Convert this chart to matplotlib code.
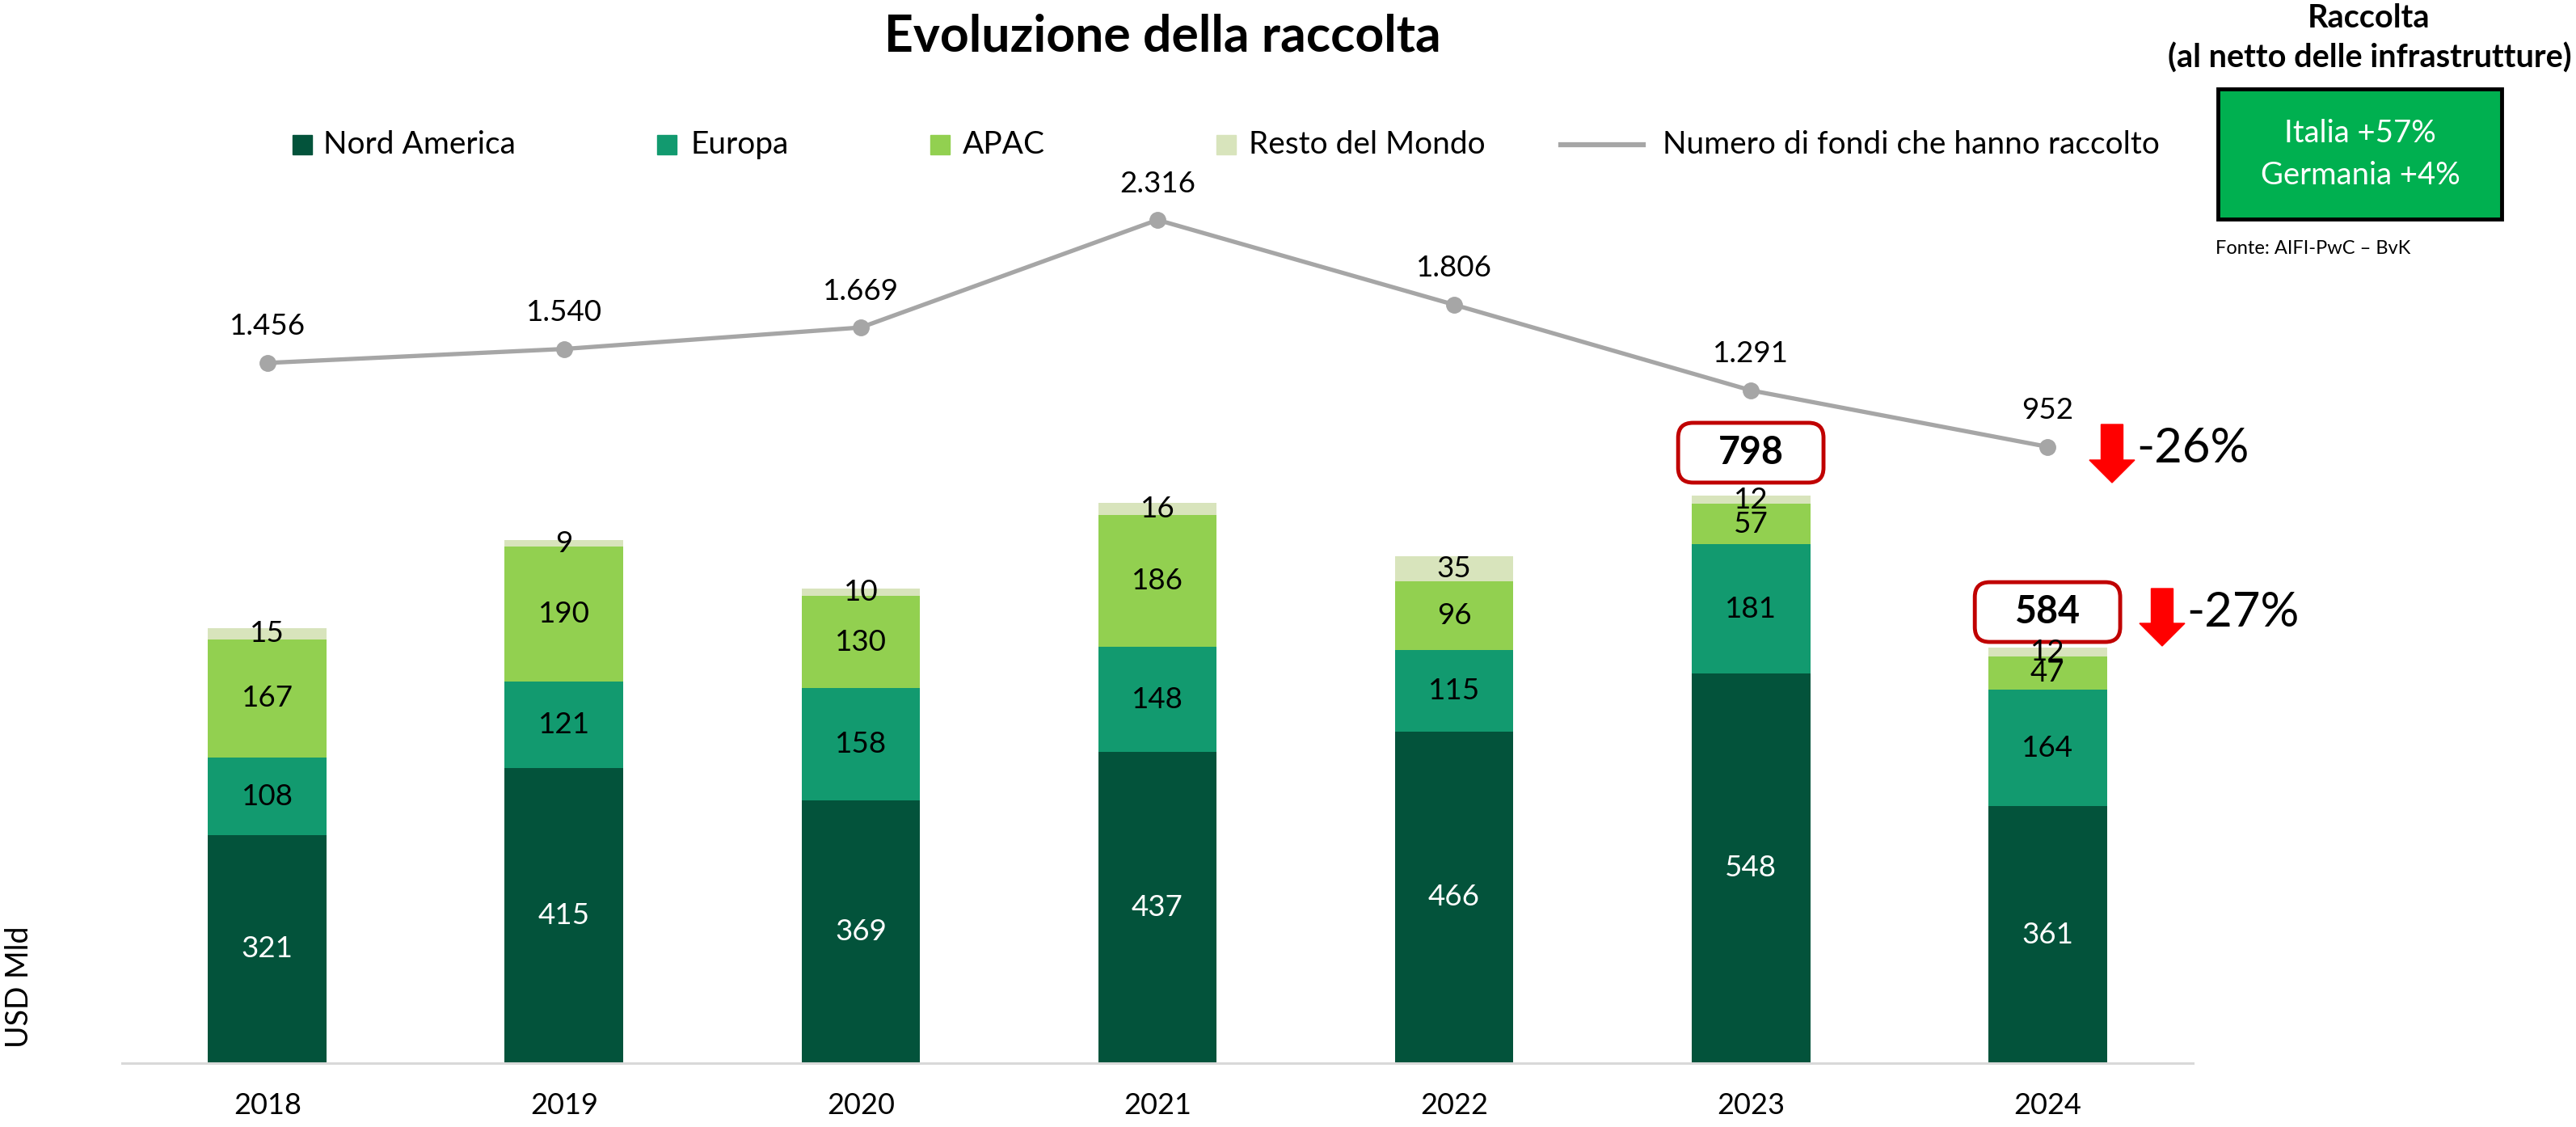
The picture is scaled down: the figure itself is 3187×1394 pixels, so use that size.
import matplotlib
matplotlib.use("Agg")
import matplotlib.pyplot as plt
from matplotlib.patches import Rectangle, FancyBboxPatch, FancyArrow
from matplotlib.lines import Line2D

plt.rcParams['font.family'] = ['Lato', 'DejaVu Sans']

# data
years = ['2018', '2019', '2020', '2021', '2022', '2023', '2024']
nord_america = [321, 415, 369, 437, 466, 548, 361]
europa = [108, 121, 158, 148, 115, 181, 164]
apac = [167, 190, 130, 186, 96, 57, 47]
resto = [15, 9, 10, 16, 35, 12, 12]
n_fondi = [1456, 1540, 1669, 2316, 1806, 1291, 952]

series = [
    ('Nord America', nord_america, '#03533B', 'white'),
    ('Europa', europa, '#129A6F', 'black'),
    ('APAC', apac, '#92D050', 'black'),
    ('Resto del Mondo', resto, '#D8E4BC', 'black'),
]
line_color = '#A6A6A6'

W, H = 3187, 1394
fig = plt.figure(figsize=(W / 100, H / 100), dpi=100)


def fx(px):
    return px / W


def fy(py):
    return 1 - py / H


ax = fig.add_axes([fx(151), fy(1315), fx(2713) - fx(151), fy(100) - fy(1315)])
x = list(range(len(years)))

# stacked bars
bottom = [0] * len(years)
for name, vals, col, tcol in series:
    ax.bar(x, vals, width=0.4, bottom=bottom, color=col, edgecolor='none')
    for i, v in enumerate(vals):
        ax.text(i, bottom[i] + v / 2, str(v), ha='center', va='center',
                fontsize=26.5, color=tcol)
    bottom = [b + v for b, v in zip(bottom, vals)]
totals = bottom

ax.set_ylim(0, (1315 - 100) / 0.88)
ax.set_xlim(-0.49, 6.49)
ax.set_xticks(x)
ax.set_xticklabels(years, fontsize=26)
ax.tick_params(axis='x', length=0, pad=26)
ax.set_yticks([])
for s in ['top', 'right', 'left']:
    ax.spines[s].set_visible(False)
ax.spines['bottom'].set_color('#D9D9D9')
ax.spines['bottom'].set_linewidth(2.2)
fig.text(fx(24), fy(1221), 'USD Mld', rotation=90, ha='center', va='center',
         fontsize=27)

# line on secondary axis
ax2 = ax.twinx()
ax2.set_ylim(2316 - (1315 - 272) / 0.2057, 2316 + (272 - 100) / 0.2057)
ax2.plot(x, n_fondi, color=line_color, lw=3.8, marker='o', markersize=14,
         solid_capstyle='round')
for i, v in enumerate(n_fondi):
    ax2.annotate(f"{v:,}".replace(',', '.'), (i, v), xytext=(0, 45),
                 textcoords='offset pixels', ha='center', va='center', fontsize=26.5)
ax2.axis('off')

# total boxes for 2023 and 2024
for i, off in [(5, 60), (6, 50)]:
    cy = totals[i] + off
    box = FancyBboxPatch((i - 0.245, cy - 42), 0.49, 84,
                         boxstyle='round,pad=0,rounding_size=0.05',
                         mutation_aspect=417, facecolor='white',
                         edgecolor='#C00000', lw=3.5, transform=ax.transData,
                         clip_on=False)
    ax.add_patch(box)
    ax.text(i, cy, str(totals[i]), ha='center', va='center', fontsize=33.5,
            fontweight='bold')

# red arrows with variations
for (sx, top, tip, tx, ty, label) in [(2613, 525, 597, 2643, 555, '-26%'),
                                      (2675, 728, 799, 2705, 758, '-27%')]:
    arr = FancyArrow(fx(sx), fy(top), 0, fy(tip) - fy(top), width=fx(27),
                     head_width=fx(56), head_length=fy(0) - fy(28),
                     length_includes_head=True, color='#FF0000',
                     transform=fig.transFigure)
    fig.add_artist(arr)
    fig.text(fx(tx), fy(ty), label, ha='left', va='center', fontsize=43)

# title
fig.text(fx(1438), fy(45), 'Evoluzione della raccolta', ha='center', va='center',
         fontsize=45, fontweight='bold')

# legend
leg_y = 179
for (name, vals, col, tcol), sq, tx in zip(series, [374, 825, 1163, 1517],
                                           [400, 854, 1191, 1545]):
    fig.add_artist(Rectangle((fx(sq - 12), fy(leg_y + 12)), fx(24), fy(0) - fy(24),
                             color=col, transform=fig.transFigure))
    fig.text(fx(tx), fy(leg_y), name, ha='left', va='center', fontsize=28)
fig.add_artist(Line2D([fx(1931), fx(2033)], [fy(leg_y), fy(leg_y)], color=line_color,
                      lw=4.5, transform=fig.transFigure))
fig.text(fx(2057), fy(leg_y), 'Numero di fondi che hanno raccolto', ha='left',
         va='center', fontsize=28)

# right side box
fig.text(fx(2931), fy(22), 'Raccolta', ha='center', va='center', fontsize=28.5,
         fontweight='bold')
fig.text(fx(3182), fy(72), '(al netto delle infrastrutture)', ha='right', va='center',
         fontsize=28.5, fontweight='bold')
fig.add_artist(Rectangle((fx(2744), fy(271)), fx(3095) - fx(2744), fy(110) - fy(271),
                         facecolor='#00B050', edgecolor='black', lw=3.5,
                         transform=fig.transFigure))
fig.text(fx(2920), fy(165), 'Italia +57%', ha='center', va='center', fontsize=27.5,
         color='white')
fig.text(fx(2920), fy(217), 'Germania +4%', ha='center', va='center', fontsize=27.5,
         color='white')
fig.text(fx(2741), fy(307), 'Fonte: AIFI-PwC – BvK', ha='left', va='center',
         fontsize=17)

plt.savefig('out.png', dpi=100)
